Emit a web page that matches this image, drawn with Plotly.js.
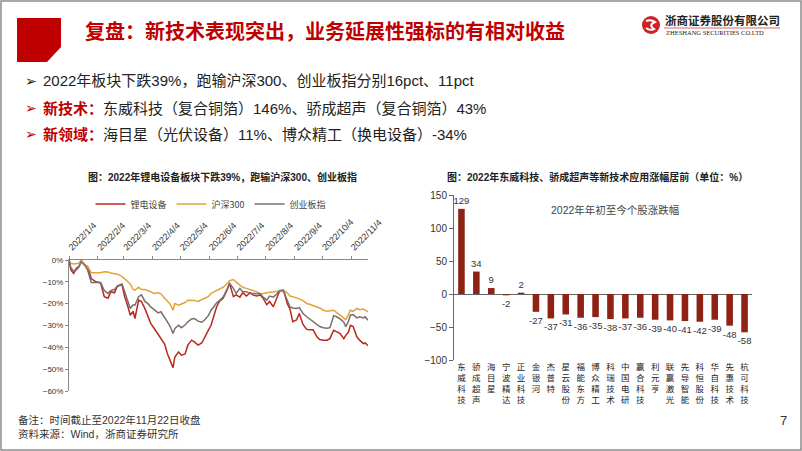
<!DOCTYPE html>
<html><head><meta charset="utf-8">
<script src="https://cdn.plot.ly/plotly-3.0.1.min.js"></script>
<style>html,body{margin:0;padding:0;background:#fff;}#chart{width:802px;height:451px;}</style>
</head><body><div id="chart"></div>
<script>
// ---------- Line chart data (cumulative change since 2022/1/4, %) ----------
const lineDates = ['2022-01-04','2022-01-06','2022-01-09','2022-01-12','2022-01-15','2022-01-17','2022-01-21','2022-01-24','2022-01-28','2022-02-02',
'2022-02-07','2022-02-11','2022-02-15','2022-02-18','2022-02-22','2022-02-25','2022-03-02','2022-03-05','2022-03-08','2022-03-11',
'2022-03-14','2022-03-16','2022-03-20','2022-03-23','2022-03-27','2022-03-30','2022-04-02','2022-04-06','2022-04-10','2022-04-13',
'2022-04-17','2022-04-20','2022-04-23','2022-04-26','2022-04-28','2022-05-02','2022-05-05','2022-05-09','2022-05-12','2022-05-16',
'2022-05-19','2022-05-23','2022-05-27','2022-05-30','2022-06-03','2022-06-06','2022-06-09','2022-06-12','2022-06-15','2022-06-19',
'2022-06-23','2022-06-26','2022-06-30','2022-07-03','2022-07-07','2022-07-10','2022-07-14','2022-07-18','2022-07-21','2022-07-25',
'2022-07-29','2022-08-01','2022-08-05','2022-08-08','2022-08-12','2022-08-16','2022-08-19','2022-08-23','2022-08-27','2022-08-30',
'2022-09-02','2022-09-06','2022-09-09','2022-09-13','2022-09-17','2022-09-20','2022-09-24','2022-09-28','2022-10-01','2022-10-05',
'2022-10-09','2022-10-12','2022-10-16','2022-10-19','2022-10-23','2022-10-27','2022-10-29','2022-11-01','2022-11-03','2022-11-06',
'2022-11-10','2022-11-13','2022-11-17','2022-11-19','2022-11-22'];

const lithiumEquip = [0,-4.6,-6.1,-3.8,-2.8,0,-2.3,-3.0,-8.5,-10.0,
 -10.5,-16.8,-17.5,-14.5,-15.0,-12.0,-11.2,-16.8,-20.7,-25.3,
 -23.5,-26.8,-18.4,-19.0,-22.5,-26.0,-29.0,-31.5,-34.0,-35.8,
 -38.5,-42.9,-45.9,-49.3,-44.4,-42.1,-43.6,-43.0,-39.0,-36.7,
 -37.5,-39.0,-38.0,-35.2,-32.2,-29.9,-25.0,-21.4,-19.0,-17.5,
 -14.0,-10.7,-16.8,-16.0,-17.0,-15.0,-16.5,-15.0,-16.0,-16.5,
 -16.0,-17.5,-20.5,-19.0,-21.4,-17.0,-14.0,-13.8,-19.9,-22.5,
 -28.3,-27.5,-24.5,-29.5,-31.8,-32.0,-32.0,-35.2,-36.4,-36.7,
 -36.7,-36.0,-32.2,-32.8,-33.7,-36.0,-34.5,-33.0,-29.9,-30.5,
 -35.2,-36.7,-38.3,-38.0,-39.3];

const hs300 = [0,-1.5,-1.8,-1.8,-1.5,0,-2.3,-3.0,-5.8,-5.8,
 -5.8,-5.4,-5.5,-6.0,-6.4,-6.5,-7.5,-8.6,-9.5,-11.0,
 -13.5,-13.8,-12.5,-13.5,-13.5,-14.0,-14.5,-15.3,-15.0,-15.5,
 -17.5,-19.0,-20.2,-23.0,-19.9,-20.7,-20.2,-19.5,-18.4,-18.5,
 -18.5,-19.0,-18.0,-17.5,-16.8,-15.3,-14.6,-14.0,-13.5,-12.5,
 -11.0,-9.5,-9.0,-10.0,-11.5,-12.5,-13.0,-13.5,-14.0,-14.5,
 -15.3,-15.5,-15.0,-14.8,-14.8,-14.5,-14.0,-14.0,-15.0,-16.5,
 -16.8,-17.3,-17.8,-18.6,-19.9,-20.3,-20.8,-21.4,-22.0,-23.0,
 -23.5,-23.2,-23.0,-24.0,-25.3,-27.0,-27.3,-25.0,-23.0,-23.5,
 -22.2,-22.8,-22.5,-23.0,-23.7];

const chinext = [0,-3.5,-5.0,-4.5,-3.0,-0.8,-2.5,-4.5,-10.3,-10.3,
 -10.3,-14.0,-15.3,-14.0,-13.5,-12.0,-11.0,-14.5,-18.4,-22.2,
 -20.5,-20.7,-16.8,-16.0,-19.1,-20.0,-21.5,-23.0,-24.2,-23.7,
 -26.0,-28.3,-30.5,-33.7,-31.4,-29.9,-31.0,-29.8,-28.3,-27.0,
 -26.8,-28.0,-28.5,-27.5,-25.5,-23.0,-21.4,-19.6,-18.6,-17.0,
 -13.5,-10.7,-13.0,-15.3,-13.0,-14.5,-14.5,-15.3,-15.3,-15.5,
 -15.5,-17.0,-18.4,-16.5,-17.0,-15.5,-14.0,-14.3,-18.5,-21.5,
 -22.0,-22.2,-21.8,-24.5,-26.0,-27.0,-28.0,-29.5,-30.5,-31.0,
 -31.2,-31.0,-25.5,-26.0,-27.0,-28.5,-30.6,-28.0,-25.3,-25.0,
 -26.5,-26.0,-26.5,-26.0,-27.6];

const lineNames = ['锂电设备','沪深300','创业板指'];
const dateTickVals = ['2022-01-04','2022-02-04','2022-03-04','2022-04-04','2022-05-04','2022-06-04','2022-07-04','2022-08-04','2022-09-04','2022-10-04','2022-11-04'];
const dateTickText = ['2022/1/4','2022/2/4','2022/3/4','2022/4/4','2022/5/4','2022/6/4','2022/7/4','2022/8/4','2022/9/4','2022/10/4','2022/11/4'];

// ---------- Bar chart data (2022 YTD change, %) ----------
const stocks = ['东威科技','骄成超声','海目星','宁波精达','正业科技','金银河','杰普特','星云股份','福能东方','博众精工','科瑞技术','中国电研','赢合科技','利元亨','联赢激光','先导智能','科恒股份','华自科技','先惠技术','杭可科技'];
const stockChange = [129,34,9,-2,2,-27,-37,-31,-36,-35,-38,-37,-36,-39,-40,-41,-42,-39,-48,-58];

// ---------- helpers ----------
const W = 802, H = 451;
const fx = x => x / W, fy = y => 1 - y / H;
const P = (x, y) => fx(x).toFixed(5) + ',' + fy(y).toFixed(5);
const FONT = '"Liberation Sans", Arial, "Noto Sans CJK SC", sans-serif';
const CJK = '"Noto Sans CJK SC", "Liberation Sans", sans-serif';
const RED = '#C00000';

function ann(text, x, y, size, color, extra) {
  return Object.assign({
    text: text, x: fx(x), y: fy(y), xref: 'paper', yref: 'paper',
    xanchor: 'left', yanchor: 'middle', showarrow: false,
    font: {size: size, color: color, family: FONT}
  }, extra || {});
}

const traces = [
  {type: 'scatter', mode: 'lines', name: lineNames[0], x: lineDates, y: lithiumEquip,
   line: {color: '#B8281C', width: 1.5}, xaxis: 'x', yaxis: 'y'},
  {type: 'scatter', mode: 'lines', name: lineNames[1], x: lineDates, y: hs300,
   line: {color: '#E3A33B', width: 1.5}, xaxis: 'x', yaxis: 'y'},
  {type: 'scatter', mode: 'lines', name: lineNames[2], x: lineDates, y: chinext,
   line: {color: '#7E6C6C', width: 1.5}, xaxis: 'x', yaxis: 'y'},
  {type: 'bar', x: stocks, y: stockChange, xaxis: 'x2', yaxis: 'y2', showlegend: false,
   marker: {color: '#8E2215'}, text: stockChange.map(String), textposition: 'outside',
   constraintext: 'none',
   textfont: {size: 9.5, color: '#333', family: FONT}, cliponaxis: false, hoverinfo: 'x+y'}
];

const layout = {
  width: W, height: H, margin: {l: 0, r: 0, t: 0, b: 0},
  paper_bgcolor: '#fff', plot_bgcolor: 'rgba(0,0,0,0)',
  font: {family: FONT, color: '#333'},
  bargap: 0.56,
  uniformtext: {mode: false},
  showlegend: true,
  legend: {orientation: 'h', x: fx(211), xanchor: 'center', y: fy(204), yanchor: 'middle',
    font: {size: 9, color: '#444', family: CJK}, bgcolor: 'rgba(0,0,0,0)', itemwidth: 30},
  xaxis: {
    type: 'date', domain: [fx(69), fx(368)], anchor: 'y', side: 'top',
    range: ['2022-01-04', '2022-11-22'],
    tickmode: 'array', tickvals: dateTickVals, ticktext: dateTickText, tickangle: -45,
    tickfont: {size: 9, color: '#333'}, showline: true, linecolor: '#888', linewidth: 1,
    ticks: 'outside', ticklen: 3, tickcolor: '#888', showgrid: false, zeroline: false, fixedrange: true
  },
  yaxis: {
    domain: [fy(391), fy(260)], anchor: 'x', range: [-60, 0], dtick: 10, ticksuffix: '%',
    tickfont: {size: 8, color: '#333'}, showline: true, linecolor: '#888', linewidth: 1,
    ticks: 'outside', ticklen: 3, tickcolor: '#888', showgrid: false, zeroline: false
  },
  xaxis2: {
    type: 'category', domain: [fx(454), fx(752)], anchor: 'y2', range: [-0.5, stocks.length - 0.5],
    tickmode: 'array', tickvals: stocks, ticktext: stocks.map(s => s.split('').join('<br>')),
    tickfont: {size: 8.5, color: '#222', family: CJK}, showline: false, ticks: '', showgrid: false, zeroline: false
  },
  yaxis2: {
    domain: [fy(360), fy(195)], anchor: 'x2', range: [-100, 150], dtick: 50,
    tickfont: {size: 10, color: '#333'}, showline: true, linecolor: '#666', linewidth: 1,
    ticks: 'outside', ticklen: 4, tickcolor: '#666', showgrid: false,
    zeroline: true, zerolinecolor: '#666', zerolinewidth: 1
  },
  shapes: [
    // slide border
    {type: 'rect', xref: 'paper', yref: 'paper', x0: fx(1), x1: fx(801), y0: fy(450), y1: fy(1),
     line: {color: '#8c8c8c', width: 1.5}},
    // red title block with cut corner
    {type: 'path', xref: 'paper', yref: 'paper',
     path: `M ${P(17,18)} L ${P(61,18)} L ${P(61,47)} L ${P(47,62)} L ${P(17,62)} Z`,
     fillcolor: RED, line: {width: 0}},
    // logo emblem
    {type: 'circle', xref: 'paper', yref: 'paper', x0: fx(642), x1: fx(660), y0: fy(34), y1: fy(16),
     fillcolor: '#D01F26', line: {width: 0}},
    {type: 'path', xref: 'paper', yref: 'paper',
     path: `M ${P(646,21)} Q ${P(651,19)} ${P(655,22)} Q ${P(648,25)} ${P(654,29)} Q ${P(650,31)} ${P(646,28)}`,
     fillcolor: 'rgba(0,0,0,0)', line: {color: '#fff', width: 2}},
    {type: 'line', xref: 'paper', yref: 'paper', x0: fx(664), x1: fx(780), y0: fy(28), y1: fy(28),
     line: {color: '#E06666', width: 1}}
  ],
  annotations: [
    ann('<b>复盘：新技术表现突出，业务延展性强标的有相对收益</b>', 83, 30, 20, RED, {font: {size: 20, color: RED, family: CJK}}),
    ann('<b>浙商证券股份有限公司</b>', 663, 20, 11.5, '#222', {font: {size: 11.5, color: '#222', family: CJK}}),
    ann('ZHESHANG SECURITIES CO.LTD', 664, 33, 6.5, '#222', {font: {size: 6.5, color: '#222', family: '"Liberation Serif", serif'}}),
    // bullets
    ann('➢', 23, 81, 14, '#222', {font: {size: 14, color: '#222', family: '"DejaVu Sans", sans-serif'}}),
    ann('➢', 23, 108, 14, RED, {font: {size: 14, color: RED, family: '"DejaVu Sans", sans-serif'}}),
    ann('➢', 23, 134, 14, RED, {font: {size: 14, color: RED, family: '"DejaVu Sans", sans-serif'}}),
    ann('2022年板块下跌39%，跑输沪深300、创业板指分别16pct、11pct', 41, 81, 15, '#222'),
    ann('<b><span style="color:#C00000">新技术：</span></b>东威科技（复合铜箔）146%、骄成超声（复合铜箔）43%', 41, 108, 15, '#222'),
    ann('<b><span style="color:#C00000">新领域：</span></b>海目星（光伏设备）11%、博众精工（换电设备）-34%', 41, 134, 15, '#222'),
    // chart titles
    ann('<b>图：2022年锂电设备板块下跌39%，跑输沪深300、创业板指</b>', 222, 177, 10, '#222', {xanchor: 'center'}),
    ann('<b>图：2022年东威科技、骄成超声等新技术应用涨幅居前（单位：%）</b>', 597, 177, 10, '#222', {xanchor: 'center'}),
    ann('2022年年初至今个股涨跌幅', 615, 210, 10.5, '#444', {xanchor: 'center'}),
    // footer
    ann('备注：时间截止至2022年11月22日收盘', 16, 420, 10.5, '#333'),
    ann('资料来源：Wind，浙商证券研究所', 16, 434, 10.5, '#333'),
    ann('7', 778, 420, 13, '#333')
  ]
};

Plotly.newPlot('chart', traces, layout, {displayModeBar: false, staticPlot: true});
</script></body></html>
